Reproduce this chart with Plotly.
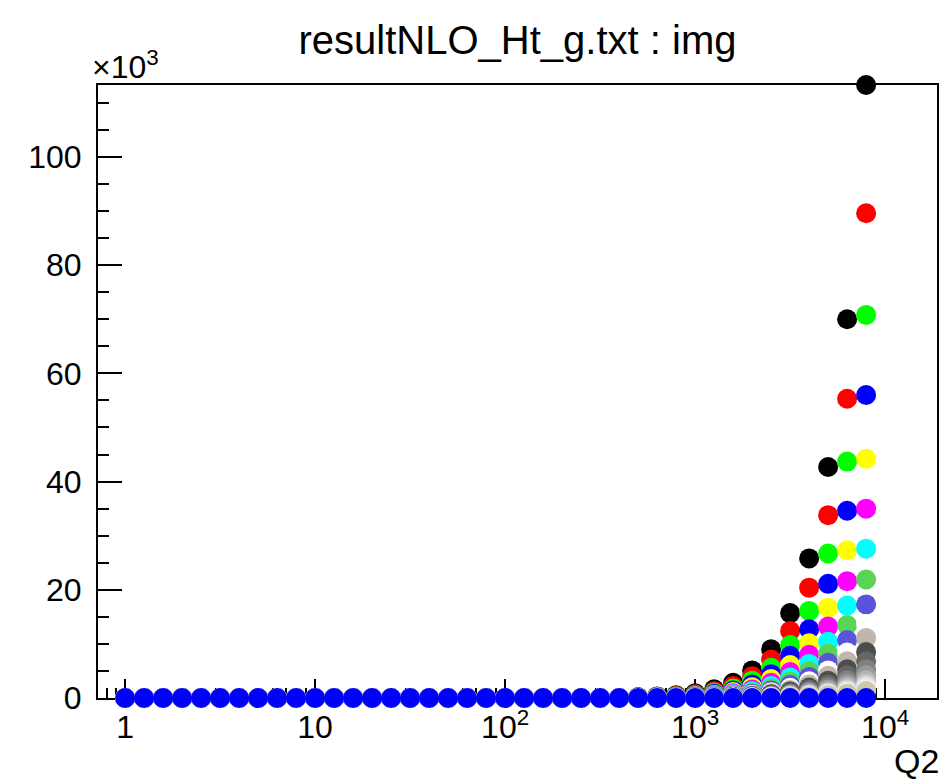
import plotly.graph_objects as go

# Q2 grid (10 points per decade)
q2 = [1.0, 1.259, 1.585, 1.995, 2.512, 3.162, 3.981, 5.012, 6.310, 7.943,
      10.0, 12.59, 15.85, 19.95, 25.12, 31.62, 39.81, 50.12, 63.10, 79.43,
      100.0, 125.9, 158.5, 199.5, 251.2, 316.2, 398.1, 501.2, 631.0, 794.3,
      1000.0, 1259.0, 1585.0, 1995.0, 2512.0, 3162.0, 3981.0, 5012.0, 6310.0, 7943.0]

# values in units of 10^3; all series read as 0 for Q2 <= ~400
LOW = [0.0] * 27
s01 = LOW + [0.15, 0.30, 0.50, 0.90, 1.60, 2.80, 5.10, 9.00, 15.7, 25.8, 42.7, 70.0, 113.3]
s02 = LOW + [0.12, 0.24, 0.40, 0.71, 1.26, 2.20, 4.00, 7.10, 12.4, 20.4, 33.8, 55.3, 89.6]
s03 = LOW + [0.09, 0.19, 0.31, 0.56, 1.00, 1.75, 3.20, 5.60, 9.80, 16.1, 26.7, 43.7, 70.8]
s04 = LOW + [0.07, 0.15, 0.25, 0.44, 0.79, 1.38, 2.50, 4.40, 7.80, 12.7, 21.1, 34.6, 56.0]
s05 = LOW + [0.06, 0.12, 0.20, 0.35, 0.62, 1.09, 2.00, 3.50, 6.10, 10.1, 16.7, 27.3, 44.2]
s06 = LOW + [0.05, 0.09, 0.15, 0.28, 0.49, 0.86, 1.57, 2.80, 4.80, 8.00, 13.2, 21.6, 35.0]
s07 = LOW + [0.04, 0.07, 0.12, 0.22, 0.39, 0.68, 1.24, 2.20, 3.80, 6.30, 10.4, 17.1, 27.6]
s08 = LOW + [0.03, 0.06, 0.10, 0.17, 0.31, 0.54, 0.98, 1.74, 3.00, 5.00, 8.20, 13.5, 21.9]
s09 = LOW + [0.02, 0.05, 0.08, 0.14, 0.24, 0.43, 0.78, 1.37, 2.40, 3.90, 6.50, 10.7, 17.3]
s10 = LOW + [0.02, 0.04, 0.06, 0.11, 0.19, 0.34, 0.61, 1.08, 1.90, 3.10, 5.10, 8.40, 13.7]
s11 = LOW + [0.01, 0.03, 0.05, 0.09, 0.15, 0.27, 0.49, 0.86, 1.50, 2.50, 4.10, 6.80, 11.1]
s12 = LOW + [0.01, 0.02, 0.04, 0.07, 0.12, 0.21, 0.38, 0.68, 1.18, 1.94, 3.20, 5.30, 8.50]
s13 = LOW + [0.01, 0.02, 0.03, 0.05, 0.10, 0.17, 0.30, 0.54, 0.94, 1.54, 2.50, 4.20, 6.80]
s14 = LOW + [0.01, 0.01, 0.02, 0.04, 0.08, 0.13, 0.24, 0.42, 0.74, 1.22, 2.00, 3.30, 5.30]
s15 = LOW + [0.01, 0.01, 0.02, 0.03, 0.06, 0.10, 0.19, 0.33, 0.58, 0.96, 1.59, 2.60, 4.20]
s16 = LOW + [0.00, 0.01, 0.01, 0.03, 0.05, 0.08, 0.15, 0.26, 0.46, 0.76, 1.26, 2.10, 3.30]
s17 = LOW + [0.00, 0.01, 0.01, 0.02, 0.04, 0.07, 0.12, 0.21, 0.37, 0.60, 0.99, 1.63, 2.60]
s18 = LOW + [0.00, 0.01, 0.01, 0.02, 0.03, 0.05, 0.09, 0.17, 0.29, 0.47, 0.79, 1.29, 2.10]
s19 = LOW + [0.00, 0.00, 0.01, 0.01, 0.02, 0.04, 0.07, 0.13, 0.23, 0.37, 0.62, 1.02, 1.64]
s20 = LOW + [0.00, 0.00, 0.01, 0.01, 0.02, 0.03, 0.06, 0.10, 0.18, 0.30, 0.49, 0.80, 1.30]
s_last = [0.0] * 40

series = [s01, s02, s03, s04, s05, s06, s07, s08, s09, s10,
          s11, s12, s13, s14, s15, s16, s17, s18, s19, s20, s_last]

# ROOT colour indices 1..20, final graph blue
colors = ["rgb(0,0,0)", "rgb(255,0,0)", "rgb(0,255,0)", "rgb(0,0,255)",
          "rgb(255,255,0)", "rgb(255,0,255)", "rgb(0,255,255)", "rgb(89,212,84)",
          "rgb(89,84,217)", "rgb(255,255,255)", "rgb(192,182,172)", "rgb(77,77,77)",
          "rgb(102,102,102)", "rgb(128,128,128)", "rgb(153,153,153)", "rgb(179,179,179)",
          "rgb(204,204,204)", "rgb(230,230,230)", "rgb(242,242,242)", "rgb(204,199,171)",
          "rgb(0,0,255)"]

x_tickvals = [1, 10, 100, 1000, 10000]
x_ticktext = ["1", "10", "10<sup>2</sup>", "10<sup>3</sup>", "10<sup>4</sup>"]
x_minor = [0.8, 0.9] + [m * d for d in (1, 10, 100, 1000) for m in range(2, 10)]
y_tickvals = [0, 20, 40, 60, 80, 100]
y_ticktext = ["0", "20", "40", "60", "80", "100"]

FONT = "Liberation Sans, Arial, Helvetica, sans-serif"

fig = go.Figure()
for vals, col in zip(series, colors):
    fig.add_trace(go.Scatter(
        x=q2, y=vals, mode="markers",
        marker=dict(size=20, color=col, line=dict(width=0)),
        cliponaxis=False, showlegend=False, hoverinfo="x+y"))

# the page body adds an 8 px margin, so the figure is 8 px smaller
W, H = 941, 772
fig.update_layout(
    width=W, height=H,
    margin=dict(l=90, r=10, t=77, b=82),
    paper_bgcolor="white", plot_bgcolor="white",
    font=dict(family=FONT, color="black"),
    title=dict(text="resultNLO_Ht_g.txt : img", x=0.5, xref="paper", xanchor="center",
               y=1 - 32 / H, yref="container", yanchor="middle",
               font=dict(size=40, family=FONT, color="black")),
    xaxis=dict(type="log", range=[-0.1427, 4.273],
               tickmode="array", tickvals=x_tickvals, ticktext=x_ticktext,
               ticks="inside", ticklen=19, tickwidth=1.5, tickcolor="black",
               minor=dict(tickmode="array", tickvals=x_minor, ticks="inside",
                          ticklen=10, tickwidth=1.5, tickcolor="black", showgrid=False),
               showline=True, linewidth=2, linecolor="black", mirror=True,
               showgrid=False, zeroline=False, layer="below traces",
               tickfont=dict(size=32, family=FONT), ticklabelstandoff=0),
    yaxis=dict(range=[0, 113.3],
               tickmode="array", tickvals=y_tickvals, ticktext=y_ticktext,
               ticks="inside", ticklen=24, tickwidth=1.5, tickcolor="black",
               minor=dict(dtick=5, ticks="inside", ticklen=11, tickwidth=1.5,
                          tickcolor="black", showgrid=False),
               showline=True, linewidth=2, linecolor="black", mirror=True,
               showgrid=False, zeroline=False, layer="below traces",
               tickfont=dict(size=32, family=FONT), ticklabelstandoff=8),
    annotations=[
        dict(text="\u00d710<sup>3</sup>", xref="paper", yref="paper", x=0, y=1,
             xanchor="left", yanchor="bottom", xshift=-8, yshift=-2, showarrow=False,
             font=dict(size=32, family=FONT, color="black")),
        dict(text="Q2", xref="paper", yref="paper", x=1, y=0,
             xanchor="right", yanchor="top", xshift=4, yshift=-42, showarrow=False,
             font=dict(size=34, family=FONT, color="black")),
    ],
)

fig.write_html("out.html")
